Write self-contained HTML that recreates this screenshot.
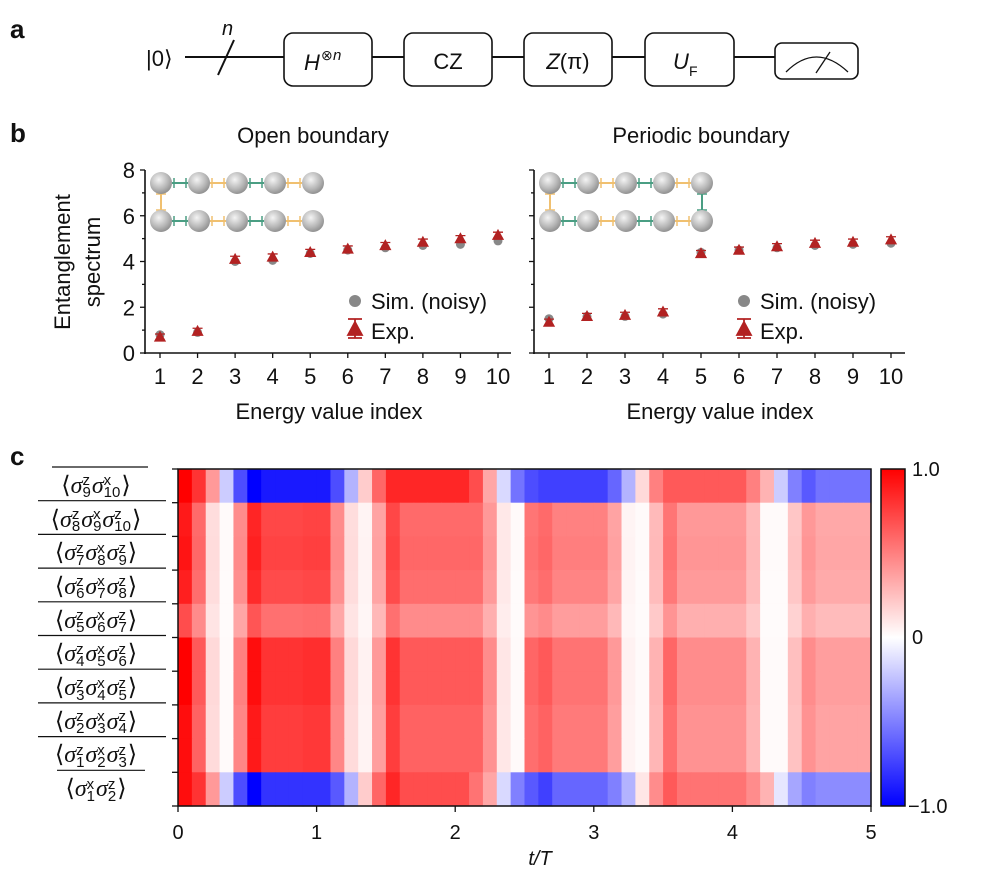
<!DOCTYPE html>
<html><head><meta charset="utf-8"><style>
html,body{margin:0;padding:0;background:#fff;}
svg text{font-family:"Liberation Sans",sans-serif;fill:#111;}
.lbl{position:absolute;font-family:"Liberation Serif",serif;font-size:24px;line-height:26px;color:#111;white-space:nowrap;transform:translateX(-50%);}
.lbl i{font-style:italic}
.ss{display:inline-block;vertical-align:middle;line-height:12px;font-size:15px;font-family:"Liberation Sans",sans-serif;text-align:left;margin-left:0px;margin-right:1px}
.ss span{display:block}
</style></head><body>
<div style="position:relative;width:982px;height:880px;overflow:hidden">
<svg id="svg" width="982" height="880" style="position:absolute;left:0;top:0">
<defs>
<radialGradient id="ball" cx="0.4" cy="0.35" r="0.7"><stop offset="0" stop-color="#f4f4f4"/><stop offset="0.6" stop-color="#b8b8b8"/><stop offset="1" stop-color="#8a8a8a"/></radialGradient>
<linearGradient id="cbar" x1="0" y1="0" x2="0" y2="1"><stop offset="0" stop-color="#ff0000"/><stop offset="0.5" stop-color="#ffffff"/><stop offset="1" stop-color="#0000ff"/></linearGradient>
</defs>
<!-- panel a -->
<text x="10" y="38" font-size="26" font-weight="bold">a</text>
<g>
<text x="146" y="66" font-size="22">|0⟩</text>
<line x1="185" y1="57" x2="775" y2="57" stroke="#111" stroke-width="2"/>
<line x1="218" y1="75" x2="234" y2="40" stroke="#111" stroke-width="2"/>
<text x="222" y="35" font-size="20" font-style="italic">n</text>
<rect x="284" y="33" width="88" height="53" rx="9" fill="#fff" stroke="#111" stroke-width="1.6"/>
<text x="304" y="70" font-size="22" font-style="italic">H</text><text x="321" y="60" font-size="14">⊗</text><text x="333" y="60" font-size="15" font-style="italic">n</text>
<rect x="404" y="33" width="88" height="53" rx="9" fill="#fff" stroke="#111" stroke-width="1.6"/>
<text x="448" y="69" font-size="22" text-anchor="middle">CZ</text>
<rect x="524" y="33" width="88" height="53" rx="9" fill="#fff" stroke="#111" stroke-width="1.6"/>
<text x="568" y="69" font-size="22" text-anchor="middle"><tspan font-style="italic">Z</tspan>(π)</text>
<rect x="645" y="33" width="89" height="53" rx="9" fill="#fff" stroke="#111" stroke-width="1.6"/>
<text x="673" y="69" font-size="22" font-style="italic">U</text><text x="689" y="76" font-size="14">F</text>
<line x1="734" y1="57" x2="775" y2="57" stroke="#111" stroke-width="2"/>
<rect x="775" y="43" width="83" height="36" rx="7" fill="#fff" stroke="#111" stroke-width="1.6"/>
<path d="M786 72 Q816 42 848 72" fill="none" stroke="#111" stroke-width="1.3"/>
<line x1="816" y1="73" x2="830" y2="52" stroke="#111" stroke-width="1.3"/>
</g>
<!-- panel b -->
<text x="10" y="142" font-size="26" font-weight="bold">b</text>
<text x="313" y="143" font-size="22" text-anchor="middle">Open boundary</text>
<text x="701" y="143" font-size="22" text-anchor="middle">Periodic boundary</text>
<text transform="translate(70,262) rotate(-90)" font-size="22" text-anchor="middle">Entanglement</text>
<text transform="translate(100,262) rotate(-90)" font-size="22" text-anchor="middle">spectrum</text>
<g id="plots"></g>
<!-- panel c -->
<text x="10" y="465" font-size="26" font-weight="bold">c</text>
<g id="heat"></g>
<rect x="881" y="469" width="24" height="337" fill="url(#cbar)" stroke="#111" stroke-width="1.5"/>
<text x="912" y="476" font-size="20">1.0</text>
<text x="912" y="644" font-size="20">0</text>
<text x="908" y="813" font-size="20">−1.0</text>
<text x="540" y="865" font-size="20" text-anchor="middle" font-style="italic">t/T</text>
</svg>
<div id="labels"></div>
</div>
<script>
// ---- panel b data ----
const energyIndex=[1,2,3,4,5,6,7,8,9,10];
const openSim=[0.8,0.9,4.0,4.05,4.35,4.5,4.6,4.7,4.75,4.9];
const openExp=[0.7,0.95,4.1,4.2,4.4,4.55,4.7,4.85,5.0,5.15];
const perSim=[1.5,1.6,1.6,1.7,4.4,4.5,4.6,4.7,4.75,4.8];
const perExp=[1.35,1.6,1.65,1.8,4.35,4.5,4.65,4.8,4.85,4.95];
const yTicks=[0,2,4,6,8];
// ---- panel c data ----
const xTicks=[0,1,2,3,4,5];
const topRow=[1.0,0.8,0.4,-0.2,-0.7,-1.0,-0.9,-0.9,-0.9,-0.9,-0.9,-0.7,-0.3,0.2,0.6,0.85,0.85,0.85,0.85,0.85,0.85,0.7,0.35,-0.15,-0.55,-0.7,-0.75,-0.75,-0.75,-0.75,-0.75,-0.6,-0.3,0.15,0.5,0.65,0.65,0.65,0.65,0.65,0.65,0.5,0.3,-0.2,-0.5,-0.65,-0.55,-0.55,-0.55,-0.55];
const midProfile=[1.0,0.65,0.15,0.02,0.5,0.95,0.8,0.8,0.8,0.82,0.82,0.5,0.15,0.05,0.4,0.8,0.65,0.65,0.65,0.65,0.65,0.65,0.45,0.1,0.02,0.6,0.65,0.55,0.55,0.55,0.55,0.4,0.05,0.02,0.3,0.6,0.45,0.45,0.45,0.45,0.45,0.3,0.02,0.02,0.25,0.45,0.38,0.38,0.38,0.38];
const rowScale=[0.9,0.92,0.88,0.7,1.0,1.0,0.95,0.95];
const bottomRow=[0.95,0.8,0.4,-0.2,-0.7,-1.0,-0.8,-0.8,-0.8,-0.8,-0.8,-0.65,-0.3,0.2,0.6,0.85,0.7,0.7,0.7,0.7,0.7,0.55,0.35,-0.15,-0.5,-0.65,-0.75,-0.6,-0.6,-0.6,-0.6,-0.5,-0.3,0.1,0.45,0.65,0.55,0.55,0.55,0.55,0.55,0.45,0.3,-0.1,-0.35,-0.5,-0.45,-0.45,-0.45,-0.45];
const rowLabels=[
 [["z","9"],["x","10"]],
 [["z","8"],["x","9"],["z","10"]],
 [["z","7"],["x","8"],["z","9"]],
 [["z","6"],["x","7"],["z","8"]],
 [["z","5"],["x","6"],["z","7"]],
 [["z","4"],["x","5"],["z","6"]],
 [["z","3"],["x","4"],["z","5"]],
 [["z","2"],["x","3"],["z","4"]],
 [["z","1"],["x","2"],["z","3"]],
 [["x","1"],["z","2"]]
];

const NS="http://www.w3.org/2000/svg";
function mk(tag,attrs,parent){const e=document.createElementNS(NS,tag);for(const k in attrs)e.setAttribute(k,attrs[k]);parent.appendChild(e);return e;}
const plots=document.getElementById('plots');
const yB=v=>353-v*(183/8);
function drawPanel(ax,x1,sim,exp,name,periodic){
  const g=mk('g',{},plots);
  
  
  const step=(x1-ax.x1px)/9;
  const xS=i=>ax.x1px+(i-1)*step;
  mk('line',{x1:ax.x,y1:170,x2:ax.x,y2:354,stroke:'#111','stroke-width':1.6},g);
  mk('line',{x1:ax.x-1,y1:353,x2:ax.end,y2:353,stroke:'#111','stroke-width':1.6},g);
  for(let v=0;v<=8;v++){mk('line',{x1:ax.x-(v%2?3:5),y1:yB(v),x2:ax.x,y2:yB(v),stroke:'#111','stroke-width':1.3},g);}
  if(ax.labels){yTicks.forEach(v=>{const t=mk('text',{x:ax.x-10,y:yB(v)+8,'font-size':22,'text-anchor':'end'},g);t.textContent=v;});}
  energyIndex.forEach(i=>{mk('line',{x1:xS(i),y1:353,x2:xS(i),y2:358,stroke:'#111','stroke-width':1.3},g);
    const t=mk('text',{x:xS(i),y:384,'font-size':22,'text-anchor':'middle'},g);t.textContent=i;
    });
  const xt=mk('text',{x:(ax.x1px+x1)/2,y:419,'font-size':22,'text-anchor':'middle'},g);xt.textContent='Energy value index';
  
  energyIndex.forEach((i,k)=>{
    const c=mk('circle',{cx:xS(i),cy:yB(sim[k]),r:4.5,fill:'#888'},g);
    
    const y=yB(exp[k]),x=xS(i);
    const p=mk('path',{d:`M${x-5} ${y-3}h10M${x-5} ${y+3}h10M${x} ${y-3}v6M${x-5} ${y+4}L${x} ${y-5}L${x+5} ${y+4}Z`,stroke:'#b22222','stroke-width':1.3,fill:'#b22222'},g);
    
  });
  const lx=ax.x+210;
  mk('circle',{cx:lx,cy:301,r:6,fill:'#888'},g);
  const t1=mk('text',{x:lx+16,y:309,'font-size':22},g);t1.textContent='Sim. (noisy)';
  
  mk('path',{d:`M${lx-7} 319h14M${lx-7} 338h14M${lx} 319v19M${lx-7} 335L${lx} 322L${lx+7} 335Z`,stroke:'#b22222','stroke-width':1.8,fill:'#b22222'},g);
  const t2=mk('text',{x:lx+16,y:339,'font-size':22},g);t2.textContent='Exp.';
  
  const bx=ax.x1px+1,cols=[0,1,2,3,4].map(k=>bx+k*38),rows=[183,221];
  const green='#4a9e83',orange='#f0c070';
  rows.forEach(ry=>{for(let k=0;k<4;k++){const col=(k%2==0)?green:orange;
    mk('line',{x1:cols[k]+11,y1:ry,x2:cols[k+1]-11,y2:ry,stroke:col,'stroke-width':2},g);
    mk('line',{x1:cols[k]+13,y1:ry-5,x2:cols[k]+13,y2:ry+5,stroke:col,'stroke-width':1.5},g);
    mk('line',{x1:cols[k+1]-13,y1:ry-5,x2:cols[k+1]-13,y2:ry+5,stroke:col,'stroke-width':1.5},g);}});
  const vl=(x,col)=>{mk('line',{x1:x,y1:194,x2:x,y2:210,stroke:col,'stroke-width':2},g);mk('line',{x1:x-5,y1:194,x2:x+5,y2:194,stroke:col,'stroke-width':1.5},g);mk('line',{x1:x-5,y1:210,x2:x+5,y2:210,stroke:col,'stroke-width':1.5},g);};
  vl(cols[0],orange); if(periodic) vl(cols[4],green);
  rows.forEach(ry=>cols.forEach(cx=>{const b=mk('circle',{cx:cx,cy:ry,r:11,fill:'url(#ball)'},g);}));
}
drawPanel({x:145,x1px:160,end:511,labels:true},498,openSim,openExp,'open-boundary-plot',false);
drawPanel({x:534,x1px:549,end:905,labels:false},891,perSim,perExp,'periodic-boundary-plot',true);

const heat=document.getElementById('heat');
const HX0=178,HX1=871,HY0=469,HY1=806,nC=topRow.length,nR=10;
const xH=t=>HX0+t*(HX1-HX0)/5;
const cw=(HX1-HX0)/nC,rh=(HY1-HY0)/nR;
function col(v){v=Math.max(-1,Math.min(1,v));let r,g,b;
  if(v>=0){r=255;g=b=Math.round(255*(1-v));}else{r=g=Math.round(255*(1+v));b=255;}
  return `rgb(${r},${g},${b})`;}
for(let r=0;r<nR;r++){
  for(let c=0;c<nC;c++){
    const v=r==0?topRow[c]:(r==nR-1?bottomRow[c]:midProfile[c]*rowScale[r-1]);
    const rc=mk('rect',{x:HX0+c*cw,y:HY0+r*rh,width:cw+0.6,height:rh+0.6,fill:col(v)},heat);
    
    
  }
}
mk('rect',{x:HX0,y:HY0,width:HX1-HX0,height:HY1-HY0,fill:'none',stroke:'#111','stroke-width':1.5},heat);
for(let r=0;r<=nR;r++){mk('line',{x1:HX0-6,y1:HY0+r*rh,x2:HX0,y2:HY0+r*rh,stroke:'#111','stroke-width':1.3},heat);}
xTicks.forEach(t=>{mk('line',{x1:xH(t),y1:HY1,x2:xH(t),y2:HY1+6,stroke:'#111','stroke-width':1.3},heat);
  const tx=mk('text',{x:xH(t),y:839,'font-size':20,'text-anchor':'middle'},heat);tx.textContent=t;
  });
const lab=document.getElementById('labels');
rowLabels.forEach((terms,r)=>{
  const d=document.createElement('div');d.className='lbl';
  
  
  const yc=HY0+r*rh+rh/2;
  d.style.left='96px';d.style.top=(yc-13)+'px';
  let h='⟨';terms.forEach(([s,n])=>{h+=`<i>σ</i><span class="ss"><span>${s}</span><span>${n}</span></span>`;});h+='⟩';
  d.innerHTML=h;lab.appendChild(d);
  const ln=document.createElementNS(NS,'line');
  ln.setAttribute('x1',r==0?52:(r==9?57:38));ln.setAttribute('x2',r==0?148:(r==9?145:166));
  ln.setAttribute('y1',HY0+r*rh-2);ln.setAttribute('y2',HY0+r*rh-2);
  ln.setAttribute('stroke','#111');ln.setAttribute('stroke-width','1.2');
  
  
  document.getElementById('svg').appendChild(ln);
});
</script>
</body></html>
